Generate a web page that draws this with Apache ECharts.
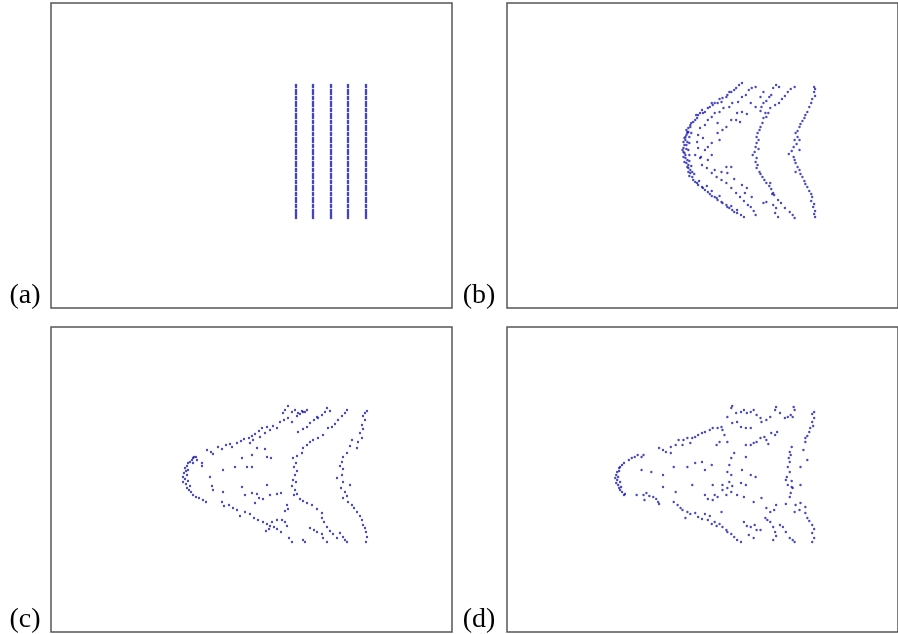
<!DOCTYPE html>
<html><head><meta charset="utf-8">
<script src="https://cdn.jsdelivr.net/npm/echarts@6/dist/echarts.min.js"></script>
<style>html,body{margin:0;padding:0;background:#fff}#c{width:898px;height:634px}</style>
</head><body><div id="c"></div>
<script>
// Panel labels
const panelLabels = ['(a)', '(b)', '(c)', '(d)'];

// Shared frame for all panels (position units inside each box)
const xRange = [0, 401];
const yRange = [0, 305];

// (a) initial state: five vertical lines of particles
const linesX_a = [245, 262, 280, 297, 315];
const linesY_a = [82,84,87,89,91,94,96,99,101,103,106,108,111,113,115,118,120,123,125,127,130,132,135,137,139,142,144,147,149,151,154,156,159,161,163,166,168,171,173,175,178,180,183,185,187,190,192,195,197,199,202,204,207,209,211,213,215];

// (b)
const outer_b = [[241,80],[238,82],[235,85],[233,87],[230,89],[226,92],[225,94],[221,95],[220,99],[216,100],[213,100],[211,102],[208,104],[206,105],[203,109],[201,110],[198,110],[196,112],[195,115],[193,117],[191,119],[189,120],[188,124],[186,125],[186,129],[185,130],[184,132],[183,134],[182,135],[181,139],[183,137],[185,139],[182,142],[181,145],[180,147],[181,149],[182,150],[181,154],[183,155],[182,159],[184,160],[185,164],[186,165],[186,169],[188,170],[187,173],[190,174],[191,177],[193,179],[195,180],[196,182],[200,184],[201,185],[203,187],[206,189],[208,191],[210,193],[213,194],[215,195],[216,197],[220,199],[221,200],[225,202],[226,204],[228,205],[231,207],[233,209],[236,210],[240,212],[243,214],[185,129],[184,142],[186,147],[183,152],[185,157],[186,162],[188,167],[190,169],[187,134],[189,130],[188,122],[184,127],[187,140],[184,146],[187,152],[187,158],[189,163],[192,171],[197,178],[205,183],[210,188],[218,193],[230,203],[236,207],[194,112],[200,107],[210,100],[218,96],[228,89]];
const inner_b = [[255,84],[251,85],[248,87],[245,92],[241,94],[237,99],[231,100],[228,104],[222,105],[218,109],[213,110],[210,114],[206,117],[203,122],[198,125],[196,132],[195,139],[196,145],[193,152],[198,155],[200,162],[205,165],[210,170],[215,174],[220,177],[225,180],[230,185],[235,190],[239,194],[243,198],[247,202],[250,204],[253,208],[255,212]];
const scatter_b = [[216,130],[221,127],[218,137],[210,140],[203,147],[206,157],[213,167],[220,169],[226,170],[233,176],[241,182],[244,190],[251,194],[236,110],[241,109],[246,111],[235,117],[239,119],[230,117],[225,124],[216,120],[201,135],[206,144],[199,154],[210,152],[230,164],[225,164],[246,185],[255,104],[250,100],[260,94],[263,89]];
const middle_b = [[276,82],[279,84],[273,85],[271,92],[269,94],[266,98],[263,100],[261,104],[260,108],[265,110],[263,115],[262,120],[260,124],[259,127],[257,130],[256,134],[258,137],[256,140],[255,144],[258,146],[254,149],[252,152],[256,155],[255,159],[257,162],[256,165],[259,169],[260,171],[262,174],[264,177],[266,180],[269,183],[271,186],[273,190],[274,192],[272,191],[278,197],[281,200],[273,202],[276,205],[275,210],[278,214],[285,205],[290,209],[293,212],[295,215],[266,199],[263,200],[270,180],[295,84],[291,86],[288,89],[285,93],[282,96],[279,100],[275,102],[270,105],[268,110],[266,114]];
const right_b = [[315,84],[316,86],[315,89],[316,93],[313,96],[312,100],[310,104],[308,109],[306,112],[305,115],[303,118],[301,121],[300,124],[298,128],[296,130],[298,134],[295,137],[297,141],[294,144],[292,148],[289,151],[294,154],[295,157],[296,160],[298,164],[300,167],[296,169],[301,171],[303,174],[305,178],[306,181],[308,184],[310,188],[312,191],[313,194],[312,198],[315,201],[314,204],[316,208],[315,211],[316,214],[300,137],[300,147]];

// (c)
const apex_c = [[145,130],[142,131],[141,133],[139,135],[137,136],[136,139],[134,141],[135,144],[133,146],[132,150],[134,152],[132,155],[135,157],[136,161],[138,163],[140,165],[142,168],[145,170],[148,171],[152,173],[155,175],[137,143],[136,148],[137,154],[139,159],[143,130],[146,133],[142,136]];
const top_c = [[151,136],[156,123],[160,125],[162,127],[167,120],[171,122],[175,118],[179,117],[181,120],[186,116],[190,114],[193,112],[198,111],[201,109],[204,107],[208,104],[211,101],[216,100],[219,103],[222,99],[226,101],[229,95],[233,93],[237,91],[241,95],[246,89],[249,87],[252,85],[256,83],[199,116],[202,113],[209,110],[214,106],[237,79],[234,83],[232,86],[241,85],[244,83],[247,86],[251,84],[254,85],[276,81],[279,84],[274,85],[271,88],[267,91],[263,93],[266,90],[259,96],[256,100],[252,102],[247,105],[291,89],[294,86],[296,83],[287,93],[284,97],[281,100],[277,101]];
const middle_c = [[272,108],[267,111],[262,113],[259,115],[256,118],[252,121],[251,126],[246,129],[242,131],[245,136],[243,140],[246,144],[244,148],[242,153],[245,155],[241,159],[244,163],[246,167],[243,168],[249,172],[252,174],[256,176],[261,178],[266,182],[236,178],[237,182],[234,184],[271,191],[273,195],[276,200],[279,204],[282,207],[286,211],[271,186]];
const right_c = [[314,86],[316,84],[312,89],[314,93],[311,98],[312,102],[309,106],[311,111],[307,115],[301,113],[306,121],[299,119],[296,126],[292,130],[291,135],[289,139],[292,142],[291,148],[286,151],[292,155],[290,161],[294,165],[296,169],[292,171],[297,175],[301,178],[303,181],[306,185],[309,189],[311,193],[312,198],[314,201],[315,205],[316,210],[315,215],[299,158]];
const bottom_c = [[171,175],[173,179],[178,178],[182,181],[186,183],[189,189],[194,185],[199,187],[203,191],[207,193],[212,195],[216,197],[219,199],[223,200],[226,202],[230,205],[218,202],[215,204],[221,195],[226,193],[231,193],[234,195],[236,199],[238,211],[241,215],[252,213],[254,215],[259,201],[263,203],[266,205],[271,207],[272,211],[276,215],[289,206],[292,210],[294,213],[296,215]];
const scatter_c = [[151,139],[159,150],[161,159],[162,163],[172,143],[184,140],[191,131],[196,140],[201,140],[206,121],[214,122],[216,130],[220,131],[216,158],[219,168],[212,172],[208,171],[206,167],[204,176],[201,166],[194,168],[191,160],[226,167],[230,166],[172,165],[201,128]];

// (d)
const apex_d = [[120,136],[118,138],[116,140],[115,141],[113,145],[112,148],[111,151],[113,153],[112,156],[114,158],[115,161],[116,163],[118,165],[121,167],[120,168],[114,150],[116,155],[117,160],[115,144]];
const top_d = [[125,133],[128,131],[131,130],[134,128],[138,130],[140,128],[156,121],[160,123],[163,125],[168,120],[173,118],[176,113],[181,113],[185,111],[190,111],[193,110],[196,108],[200,106],[203,105],[208,103],[211,101],[216,101],[220,100],[221,103],[223,108],[218,115],[215,118],[180,118],[188,116],[168,126],[226,90],[230,81],[231,79],[235,86],[236,95],[240,85],[243,83],[246,86],[250,85],[253,83],[256,88],[260,91],[261,95],[266,93],[270,90],[275,83],[276,80],[280,86],[285,91],[288,90],[291,88],[293,90],[295,83],[294,80],[240,100],[245,101],[250,101],[231,96]];
const right_d = [[315,85],[313,87],[315,91],[313,95],[314,99],[311,101],[310,105],[308,109],[306,111],[306,115],[304,123],[308,133],[301,140],[301,158],[292,120],[290,125],[291,128],[289,131],[290,135],[288,140],[290,145],[287,150],[292,154],[288,158],[293,161],[291,166],[290,170],[286,177],[286,153],[292,160],[296,178],[301,176],[300,183],[306,186],[308,191],[310,194],[313,198],[315,202],[313,206],[315,211],[313,215],[295,185],[306,180]];
const middle_d = [[226,115],[233,126],[230,131],[228,138],[226,145],[230,148],[228,155],[231,159],[226,161],[230,165],[236,168],[243,170],[240,156],[245,158],[241,143],[250,148],[255,150],[245,130],[245,118],[250,118],[253,116],[256,115],[260,111],[264,110],[266,113],[268,117],[271,106],[275,108],[277,105],[261,171],[253,175],[266,181],[270,185],[274,183],[276,178]];
const bottom_d = [[133,168],[140,168],[143,166],[146,169],[141,173],[150,170],[153,172],[155,175],[156,177],[171,175],[175,178],[178,181],[180,183],[185,185],[188,187],[193,186],[196,190],[200,192],[203,187],[206,193],[210,197],[213,195],[215,199],[218,197],[221,200],[225,203],[226,205],[230,207],[233,210],[236,213],[240,215],[183,191],[208,189],[220,185],[243,195],[246,199],[250,200],[254,198],[256,203],[260,203],[265,191],[267,193],[270,195],[273,200],[275,205],[276,209],[273,213],[280,198],[283,200],[286,205],[290,211],[293,213],[295,215],[248,208],[253,211]];
const scatter_d = [[138,143],[160,148],[160,160],[171,140],[185,140],[190,158],[173,165],[193,136],[200,135],[203,143],[210,138],[211,158],[203,168],[206,172],[211,173],[213,168],[216,170],[221,158],[221,163],[225,168],[148,145]];

// ---- build
const panelA = [];
linesX_a.forEach(x => linesY_a.forEach(y => panelA.push([x, y])));
const panels = [
  panelA,
  [].concat(outer_b, inner_b, scatter_b, middle_b, right_b),
  [].concat(apex_c, top_c, middle_c, right_c, bottom_c, scatter_c),
  [].concat(apex_d, top_d, right_d, middle_d, bottom_d, scatter_d)
];

const boxes = [
  {left: 51, top: 3}, {left: 507, top: 3},
  {left: 51, top: 327}, {left: 507, top: 327}
];
const labelPos = [[25, 296], [479, 296], [25, 620], [479, 620]];

const chart = echarts.init(document.getElementById('c'), null, {renderer: 'canvas'});
const option = {
  animation: false,
  backgroundColor: '#fff',
  grid: boxes.map(b => ({left: b.left, top: b.top, width: 401, height: 305,
    show: true, borderColor: '#555', borderWidth: 1.5, backgroundColor: 'transparent'})),
  xAxis: boxes.map((b, i) => ({type: 'value', gridIndex: i, min: xRange[0], max: xRange[1], show: false})),
  yAxis: boxes.map((b, i) => ({type: 'value', gridIndex: i, min: yRange[0], max: yRange[1], inverse: true, show: false})),
  series: panels.map((d, i) => ({
    type: 'scatter', xAxisIndex: i, yAxisIndex: i, data: d,
    symbol: 'circle', symbolSize: i === 0 ? 2.6 : 2.4, silent: true,
    itemStyle: {color: '#1c1cb0'}
  })),
  graphic: panelLabels.map((t, i) => ({
    type: 'text', x: labelPos[i][0], y: labelPos[i][1], silent: true,
    style: {text: t, fill: '#000', font: '28px "Liberation Serif", serif',
      textAlign: 'center', textVerticalAlign: 'middle', verticalAlign: 'middle', align: 'center'}
  }))
};
chart.setOption(option);
</script>
</body></html>
